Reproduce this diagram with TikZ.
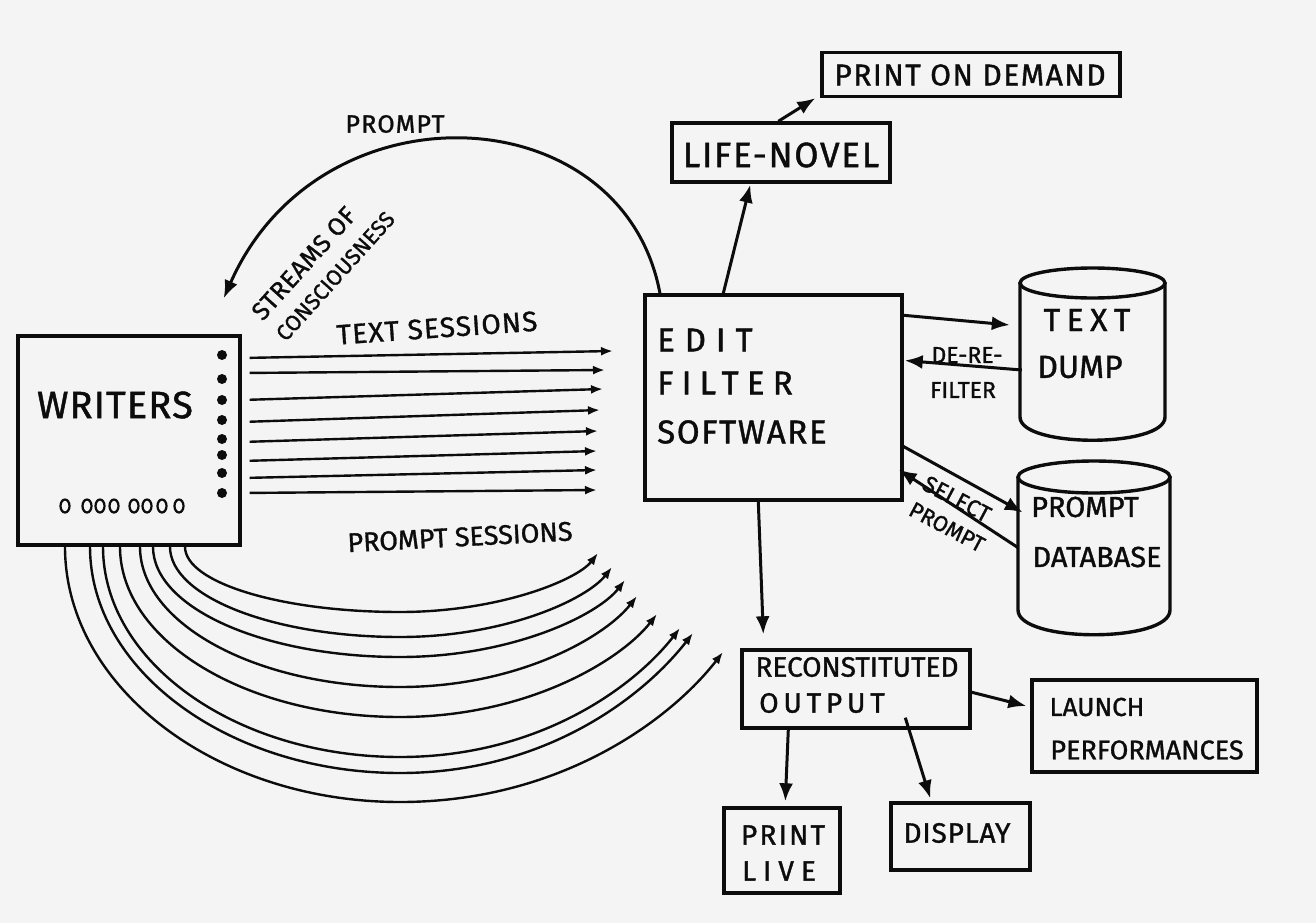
\documentclass[tikz,border=0pt]{standalone}
\usepackage{fontspec}
\setmainfont{Fira Sans}[FakeBold=1.2]
\usetikzlibrary{arrows.meta,calc}
\newcommand\hfs[2]{\fontsize{#2}{#2}\selectfont\addfontfeature{LetterSpace=#1}}
\definecolor{paper}{RGB}{244,244,244}
\definecolor{ink}{RGB}{12,12,12}
\begin{document}
\begin{tikzpicture}[x=1pt,y=-1pt,
  box/.style={draw=ink, line width=3.4pt, rectangle, inner sep=0pt},
  ghost/.style={rectangle, inner sep=0pt},
  cyl/.style={draw=ink, line width=3.4pt},
  arr/.style={draw=ink, line width=3pt, -{Latex[length=18pt,width=14pt]}},
  sarr/.style={draw=ink, line width=2.4pt, -{Latex[length=12pt,width=9pt]}},
  lbl/.style={text=ink, inner sep=0pt},
]
\fill[paper] (0,0) rectangle (1316,923);
\useasboundingbox (0,0) rectangle (1316,923);

% ---------- boxes ----------
\node[box, minimum width=222pt, minimum height=209pt] (w) at (129,440.5) {};
\node[box, minimum width=257pt, minimum height=205pt] (e) at (773.5,397.5) {};
\node[box, minimum width=218pt, minimum height=59pt] (l) at (781,152.5) {};
\node[box, minimum width=298pt, minimum height=44pt] (pod) at (971,74.5) {};
\node[box, minimum width=228pt, minimum height=78pt] (rec) at (856,689) {};
\node[box, minimum width=225pt, minimum height=92pt] (lp) at (1144.5,726) {};
\node[box, minimum width=116pt, minimum height=85pt] (live) at (782,850.5) {};
\node[box, minimum width=139pt, minimum height=67pt] (disp) at (960.5,836.5) {};

% ---------- cylinders ----------
\node[ghost, minimum width=145pt, minimum height=172pt] (dump) at (1092.5,354) {};
\draw[cyl] (1092.5,283) ellipse [x radius=72.5, y radius=15];
\draw[cyl] (1020,283) -- (1020,417) .. controls (1020,448) and (1165,448) .. (1165,417) -- (1165,283);
\node[ghost, minimum width=152pt, minimum height=176pt] (db) at (1094,547.5) {};
\draw[cyl] (1094,477) ellipse [x radius=76, y radius=16];
\draw[cyl] (1018,477) -- (1018,610) .. controls (1018,643) and (1170,643) .. (1170,610) -- (1170,477);

% ---------- texts ----------
\node[lbl, font={\hfs{3}{38}}] (tw) at (115,405) {WRITERS};
\node[lbl, font={\hfs{30}{33}}, anchor=west] (t1) at (657,340) {EDIT};
\node[lbl, font={\hfs{25}{33}}, anchor=west] (t2) at (657,383) {FILTER};
\node[lbl, font={\hfs{5}{33}}, anchor=west] (t3) at (657,432) {SOFTWARE};
\node[lbl, font={\hfs{5}{35}}] (tl) at (781,155) {LIFE-NOVEL};
\node[lbl, font={\hfs{5}{30}}] (tp) at (970,75) {PRINT ON DEMAND};
\node[lbl, font={\hfs{20}{32}}] (td1) at (1087,320) {TEXT};
\node[lbl, font={\hfs{0}{32}}] (td2) at (1080,367) {DUMP};
\node[lbl, font={\hfs{0}{29}}] (tb1) at (1085,507) {PROMPT};
\node[lbl, font={\hfs{0}{29}}] (tb2) at (1097,557) {DATABASE};
\node[lbl, font={\hfs{0}{23}}] (tdr1) at (967,355) {DE-RE-};
\node[lbl, font={\hfs{0}{23}}] (tdr2) at (963,390) {FILTER};
\node[lbl, font={\hfs{0}{23}}, rotate=-28] (ts1) at (957,499) {SELECT};
\node[lbl, font={\hfs{0}{22}}, rotate=-28] (ts2) at (947,527) {PROMPT};
\node[lbl, font={\hfs{0}{28}}] (tr1) at (857,667) {RECONSTITUTED};
\node[lbl, font={\hfs{17}{28}}] (tr2) at (822,703) {OUTPUT};
\node[lbl, font={\hfs{0}{26}}] (tl1) at (1097,707) {LAUNCH};
\node[lbl, font={\hfs{0}{27}}] (tl2) at (1147,750) {PERFORMANCES};
\node[lbl, font={\hfs{8}{28}}] (tv1) at (783,835) {PRINT};
\node[lbl, font={\hfs{25}{28}}] (tv2) at (779,871) {LIVE};
\node[lbl, font={\hfs{3}{28}}] (tdi) at (957,833) {DISPLAY};
\node[lbl, font={\hfs{5}{25}}] (tpr) at (395,124) {PROMPT};
\node[lbl, font={\hfs{4}{28}}, rotate=4] (tts) at (437,328) {TEXT SESSIONS};
\node[lbl, font={\hfs{0}{22}\baselineskip=31pt}, rotate=48, align=left, anchor=south west] (tsc) at (286,343)
  {{\hfs{2}{25}STREAMS OF}\\CONSCIOUSNESS};

% ---------- writer ports ----------
\foreach \y in {355,379,400,420,439,455,473,493}
  \fill[ink] (222,\y) circle [radius=5];
\foreach \x in {65,87,100,114,134,147,162,179}
  \draw[ink, line width=2.2pt] (\x,506) ellipse [x radius=4.5, y radius=6.5];

% ---------- main connectors ----------
\draw[arr] ($(e.north west)+(80,0)$) -- ($(l.south west)+(80,1)$);
\draw[arr] ($(l.north west)+(108,0)$) -- ($(pod.south west)+(-5,0)$);
\draw[arr] ($(e.south west)+(115,0)$) -- ($(rec.north west)+(23,-14)$);
\draw[arr] ($(e.north east)+(0,22)$) -- ($(dump.west)+(-10,-29)$);
\draw[arr] ($(dump.west)+(2,16)$) -- ($(e.east)+(1,-37)$);
\draw[arr] ($(e.east)+(-2,48)$) -- ($(db.west)+(5,-35)$);
\draw[arr] (db.west) -- ($(e.east)+(-5,72)$);
\draw[arr] ($(rec.east)+(-1,3)$) -- ($(lp.west)+(-4,-20)$);
\draw[arr] ($(rec.south west)+(48,0)$) -- ($(live.north west)+(63,-5)$);
\draw[arr] ($(rec.south west)+(165,-12)$) -- ($(disp.north west)+(41,-3)$);
\draw[arr] ($(e.north west)+(17,2)$) .. controls (625,95) and (320,80) .. ($(w.north east)+(-18,-36)$);

% ---------- text sessions ----------
\foreach \i/\ys/\xe/\ye in {1/358/613/351, 2/373/605/370, 3/400/603/389, 4/422/600/410,
                            5/442/598/431, 6/461/597/451, 7/478/597/470, 8/493/597/490}{
  \coordinate (ts\i) at (\xe,\ye);
  \draw[sarr, shorten <=8pt] (w.east |- 0,\ys) -- (ts\i);
}

% ---------- prompt sessions ----------
\node[lbl, font={\hfs{0}{27}}, rotate=3] (tps) at (460,537) {PROMPT SESSIONS};
\coordinate (p1) at (598,553);
\coordinate (p2) at (612,567);
\coordinate (p3) at (625,580);
\coordinate (p4) at (637,596);
\coordinate (p5) at (657,614);
\coordinate (p6) at (680,628);
\coordinate (p7) at (693,633);
\coordinate (p8) at (723,652);
\draw[sarr] (w.south -| 185,0) .. controls (185,583) and (282,612) .. (400,612) .. controls (499,612) and (577,580) .. (p1);
\draw[sarr] (w.south -| 170,0) .. controls (170,597) and (274,637) .. (400,637) .. controls (506,637) and (587,599) .. (p2);
\draw[sarr] (w.south -| 153,0) .. controls (153,608) and (264,657) .. (400,657) .. controls (512,657) and (598,615) .. (p3);
\draw[sarr] (w.south -| 140,0) .. controls (140,624) and (257,687) .. (400,687) .. controls (518,687) and (605,637) .. (p4);
\draw[sarr] (w.south -| 120,0) .. controls (120,641) and (246,717) .. (400,717) .. controls (528,717) and (621,660) .. (p5);
\draw[sarr] (w.south -| 103,0) .. controls (103,663) and (237,757) .. (400,757) .. controls (540,757) and (635,686) .. (p6);
\draw[sarr] (w.south -| 90,0) .. controls (90,671) and (230,773) .. (400,773) .. controls (546,773) and (644,696) .. (p7);
\draw[sarr] (w.south -| 65,0) .. controls (65,687) and (216,802) .. (400,802) .. controls (561,802) and (671,719) .. (p8);
\end{tikzpicture}
\end{document}
